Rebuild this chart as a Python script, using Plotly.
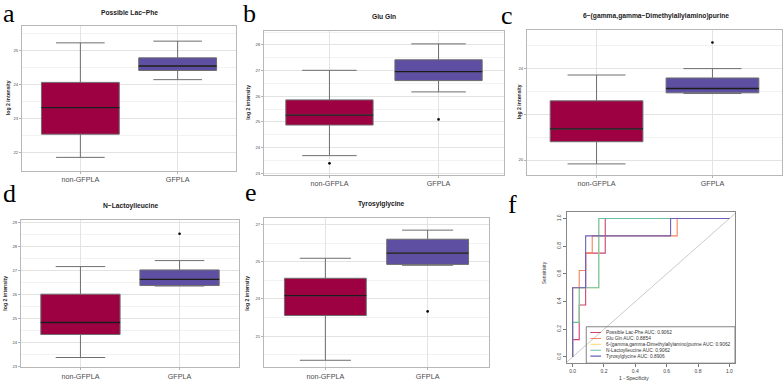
import plotly.graph_objects as go

W, H = 784, 384

# ---------------- data ----------------
groups = ["non-GFPLA", "GFPLA"]
group_pos = [1, 2]
group_fill = ["#9E0142", "#5E4FA2"]

titles = ["Possible Lac\u2212Phe", "Glu Gln", "6\u2212(gamma,gamma\u2212Dimethylallylamino)purine",
          "N\u2212Lactoylleucine", "Tyrosylglycine"]

lacphe_q1 = [22.55, 24.42]
lacphe_med = [23.33, 24.55]
lacphe_q3 = [24.07, 24.79]
lacphe_lo = [21.87, 24.15]
lacphe_hi = [25.23, 25.28]
lacphe_out = [[], []]

glugln_q1 = [24.88, 26.61]
glugln_med = [25.27, 26.96]
glugln_q3 = [25.86, 27.42]
glugln_lo = [23.69, 26.17]
glugln_hi = [27.01, 28.04]
glugln_out = [[23.39], [25.10]]

dmap_q1 = [20.80, 22.94]
dmap_med = [21.36, 23.13]
dmap_q3 = [22.59, 23.59]
dmap_lo = [19.83, 22.91]
dmap_hi = [23.72, 24.00]
dmap_out = [[], [25.14]]

nlac_q1 = [24.32, 26.36]
nlac_med = [24.82, 26.62]
nlac_q3 = [26.00, 27.01]
nlac_lo = [23.36, 26.34]
nlac_hi = [27.15, 27.40]
nlac_out = [[], [28.52]]

tyr_q1 = [22.11, 24.87]
tyr_med = [23.18, 25.48]
tyr_q3 = [24.12, 26.23]
tyr_lo = [19.69, 24.82]
tyr_hi = [25.20, 26.72]
tyr_out = [[], [22.33]]

# ROC curves (1 - specificity, sensitivity)
roc_names = ["Possible Lac-Phe", "Glu Gln", "6-(gamma,gamma-Dimethylallylamino)purine",
             "N-Lactoylleucine", "Tyrosylglycine"]
roc_auc = ["0.9062", "0.8854", "0.9062", "0.9062", "0.8906"]
roc_colors = ["#D0406E", "#F4845A", "#FEE08B", "#66C2A5", "#6B5FB5"]
lacphe_fpr = [0, 0, 0.042, 0.042, 0.083, 0.083, 0.208, 0.208, 1.0]
lacphe_tpr = [0, 0.125, 0.125, 0.375, 0.375, 0.75, 0.75, 1.0, 1.0]
glugln_fpr = [0, 0, 0.042, 0.042, 0.083, 0.083, 0.125, 0.125, 0.667, 0.667, 1.0]
glugln_tpr = [0, 0.5, 0.5, 0.625, 0.625, 0.75, 0.75, 0.875, 0.875, 1.0, 1.0]
dmap_fpr = [0, 0, 0.042, 0.042, 0.167, 0.167, 1.0]
dmap_tpr = [0, 0.25, 0.25, 0.5, 0.5, 1.0, 1.0]
nlac_fpr = [0, 0, 0.042, 0.042, 0.167, 0.167, 1.0]
nlac_tpr = [0, 0.25, 0.25, 0.5, 0.5, 1.0, 1.0]
tyr_fpr = [0, 0, 0.083, 0.083, 0.625, 0.625, 1.0]
tyr_tpr = [0, 0.5, 0.5, 0.875, 0.875, 1.0, 1.0]

# ---------------- layout helpers ----------------
def px(x):
    return x / W

def py(y):
    return 1 - y / H

panels = [
    dict(q1=lacphe_q1, med=lacphe_med, q3=lacphe_q3, lo=lacphe_lo, hi=lacphe_hi, out=lacphe_out,
         box=(22, 25, 236, 171), yr=[21.48, 25.73], dt=1, t0=22, mdt=0.5,
         title_xy=(129, 12), ylab_x=8, letter="a", letter_xy=(1, 13)),
    dict(q1=glugln_q1, med=glugln_med, q3=glugln_q3, lo=glugln_lo, hi=glugln_hi, out=glugln_out,
         box=(264, 30, 504, 175), yr=[22.95, 28.55], dt=1, t0=23, mdt=0.5,
         title_xy=(384, 15.5), ylab_x=248, letter="b", letter_xy=(241, 13)),
    dict(q1=dmap_q1, med=dmap_med, q3=dmap_q3, lo=dmap_lo, hi=dmap_hi, out=dmap_out,
         box=(527, 29, 782, 175), yr=[19.36, 25.70], dt=2, t0=20, mdt=1,
         title_xy=(656, 15.5), ylab_x=519, letter="c", letter_xy=(499, 15)),
    dict(q1=nlac_q1, med=nlac_med, q3=nlac_q3, lo=nlac_lo, hi=nlac_hi, out=nlac_out,
         box=(21, 221, 239, 369), yr=[22.96, 29.08], dt=1, t0=23, mdt=0.5,
         title_xy=(130, 206.5), ylab_x=5, letter="d", letter_xy=(1, 194)),
    dict(q1=tyr_q1, med=tyr_med, q3=tyr_q3, lo=tyr_lo, hi=tyr_hi, out=tyr_out,
         box=(264, 219, 489, 369), yr=[19.32, 27.36], dt=2, t0=21, mdt=1,
         title_xy=(381, 205), ylab_x=247, letter="e", letter_xy=(243, 193)),
]

BOXW = 0.8
fig = go.Figure()
layout = dict(width=W, height=H, margin=dict(l=0, r=0, t=0, b=0),
              paper_bgcolor="white", plot_bgcolor="white", showlegend=False,
              font=dict(family="Liberation Sans, Arial, sans-serif"))
annotations = []
shapes = []
SERIF = "Liberation Serif, Times New Roman, serif"

for i, p in enumerate(panels):
    n = i + 1
    sx = "" if n == 1 else str(n)
    xa, ya = "x" + sx, "y" + sx
    l, t, r, b = p["box"]
    for g in range(2):
        fig.add_trace(go.Box(
            x=[group_pos[g]], q1=[p["q1"][g]], median=[p["med"][g]], q3=[p["q3"][g]],
            lowerfence=[p["lo"][g]], upperfence=[p["hi"][g]],
            width=BOXW, whiskerwidth=0.625, fillcolor=group_fill[g],
            line=dict(color="#6e6e6e", width=1), boxpoints=False,
            xaxis=xa, yaxis=ya, hoverinfo="skip"))
        fig.add_trace(go.Scatter(
            x=[group_pos[g] - BOXW / 2, group_pos[g] + BOXW / 2],
            y=[p["med"][g], p["med"][g]], mode="lines",
            line=dict(color="#1c1c1c", width=1.3), xaxis=xa, yaxis=ya, hoverinfo="skip"))
        if p["out"][g]:
            fig.add_trace(go.Scatter(
                x=[group_pos[g]] * len(p["out"][g]), y=p["out"][g], mode="markers",
                marker=dict(color="black", size=2.6), xaxis=xa, yaxis=ya, hoverinfo="skip"))
    layout["xaxis" + sx] = dict(
        domain=[px(l), px(r)], anchor=ya, range=[0.4, 2.6],
        tickvals=group_pos, ticktext=groups, tickfont=dict(size=7.2, color="#4d4d4d"),
        ticks="outside", ticklen=2, tickcolor="#b3b3b3",
        showgrid=True, gridcolor="#e3e3e3", gridwidth=0.6,
        showline=True, mirror=True, linecolor="#b8b8b8", linewidth=1, zeroline=False)
    layout["yaxis" + sx] = dict(
        domain=[py(b), py(t)], anchor=xa, range=p["yr"],
        tick0=p["t0"], dtick=p["dt"], tickfont=dict(size=4.2, color="#4d4d4d"),
        ticks="outside", ticklen=2, tickcolor="#b3b3b3",
        showgrid=True, gridcolor="#e3e3e3", gridwidth=0.6,
        minor=dict(tick0=p["t0"], dtick=p["mdt"], showgrid=True, gridcolor="#f2f2f2", gridwidth=0.5),
        showline=True, mirror=True, linecolor="#b8b8b8", linewidth=1, zeroline=False)
    tx, ty = p["title_xy"]
    annotations.append(dict(text=titles[i], x=px(tx), y=py(ty), xref="paper", yref="paper",
                            showarrow=False, xanchor="center", yanchor="middle",
                            font=dict(size=6.7, color="#1a1a1a", weight="bold")))
    annotations.append(dict(text="log 2 intensity", x=px(p["ylab_x"]), y=py((t + b) / 2),
                            xref="paper", yref="paper", showarrow=False, textangle=-90,
                            xanchor="center", yanchor="middle",
                            font=dict(size=5.2, color="#1a1a1a", weight="bold")))
    lx, ly = p["letter_xy"]
    annotations.append(dict(text=p["letter"], x=px(lx), y=py(ly), xref="paper", yref="paper",
                            showarrow=False, xanchor="left", yanchor="middle",
                            font=dict(size=26, color="black", family=SERIF)))

# ---------------- ROC panel ----------------
roc_fpr = [lacphe_fpr, glugln_fpr, dmap_fpr, nlac_fpr, tyr_fpr]
roc_tpr = [lacphe_tpr, glugln_tpr, dmap_tpr, nlac_tpr, tyr_tpr]
rl, rt, rr, rb = 567, 213, 735, 365
xrange_roc = [-0.036, 1.036]
yrange_roc = [-0.045, 1.045]

shapes.append(dict(type="line", xref="x6", yref="y6", x0=-0.036, y0=-0.036, x1=1.036, y1=1.036,
                   line=dict(color="#bdbdbd", width=0.8), layer="below"))
for k in range(5):
    fig.add_trace(go.Scatter(x=roc_fpr[k], y=roc_tpr[k], mode="lines",
                             line=dict(color=roc_colors[k], width=1.1),
                             xaxis="x6", yaxis="y6", hoverinfo="skip"))

layout["xaxis6"] = dict(domain=[px(rl), px(rr)], anchor="y6", range=xrange_roc,
                        tickvals=[0, 0.2, 0.4, 0.6, 0.8, 1.0], tickformat=".1f",
                        tickfont=dict(size=5, color="#444"), ticks="outside", ticklen=3,
                        tickcolor="#777", showgrid=False, zeroline=False,
                        showline=True, mirror=True, linecolor="#888", linewidth=1)
layout["yaxis6"] = dict(domain=[py(rb), py(rt)], anchor="x6", range=yrange_roc,
                        tickvals=[0, 0.2, 0.4, 0.6, 0.8, 1.0], tickformat=".1f", tickangle=-90,
                        tickfont=dict(size=5, color="#444"), ticks="outside", ticklen=3,
                        tickcolor="#777", showgrid=False, zeroline=False,
                        showline=True, mirror=True, linecolor="#888", linewidth=1)
annotations.append(dict(text="1 - Specificity", x=px(651), y=py(380), xref="paper", yref="paper",
                        showarrow=False, yanchor="middle", font=dict(size=5, color="#333")))
annotations.append(dict(text="Sensitivity", x=px(549), y=py(288), xref="paper", yref="paper",
                        showarrow=False, textangle=-90, font=dict(size=5, color="#333")))
annotations.append(dict(text="f", x=px(506), y=py(205), xref="paper", yref="paper",
                        showarrow=False, xanchor="left", yanchor="middle",
                        font=dict(size=26, color="black", family=SERIF)))

# legend box (R-style) inside ROC panel
shapes.append(dict(type="rect", xref="x6", yref="y6", x0=0.087, x1=1.036, y0=-0.045, y1=0.218,
                   line=dict(color="#666", width=0.8), fillcolor="rgba(0,0,0,0)"))
for k in range(5):
    yy = 0.176 - k * 0.0425
    shapes.append(dict(type="line", xref="x6", yref="y6", x0=0.113, x1=0.181, y0=yy, y1=yy,
                       line=dict(color=roc_colors[k], width=1.1)))
    annotations.append(dict(text=f"{roc_names[k]} AUC: {roc_auc[k]}", x=0.2, y=yy,
                            xref="x6", yref="y6", showarrow=False, xanchor="left",
                            yanchor="middle", font=dict(size=4.8, color="#333")))

layout["annotations"] = annotations
layout["shapes"] = shapes
fig.update_layout(**layout)
fig.write_html("out.html")
